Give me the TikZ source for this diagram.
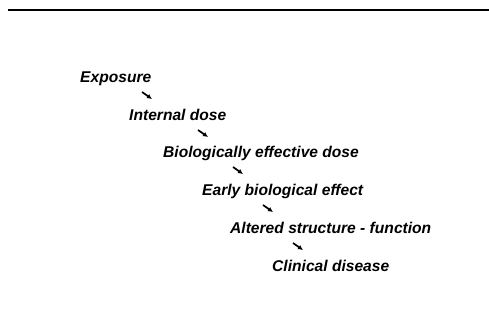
\documentclass[tikz,border=0pt]{standalone}
\usepackage{fontspec}
\setmainfont{Liberation Sans}
\usepackage{tikz}
\usetikzlibrary{arrows.meta}

\begin{document}
\begin{tikzpicture}[
  x=1pt, y=-1pt,
  stage/.style={anchor=base west, inner sep=0pt, font=\fontsize{15.6}{18}\selectfont\bfseries\itshape},
  rule/.style={line width=1.8pt, draw=black},
  stepline/.style={-{Latex[length=5pt,width=5pt]}, line width=1.7pt, draw=black}
]
\useasboundingbox (0,0) rectangle (489,324);

\coordinate (ruleL) at (8,10);
\coordinate (ruleR) at (489,10);
\draw[rule] (ruleL) -- (ruleR);

\node[stage] (expo) at (80,82) {Exposure};
\node[stage] (internal) at (129,120) {Internal dose};
\node[stage] (bio) at (163,157) {Biologically effective dose};
\node[stage] (early) at (202,195) {Early biological effect};
\node[stage] (altered) at (230,233) {Altered structure - function};
\node[stage] (clinical) at (272,271) {Clinical disease};

\foreach \a/\dx in {expo/62, internal/69, bio/70, early/61, altered/63}
  \draw[stepline] ([shift={(\dx,10)}]\a.base west) -- ++(10,7);

\end{tikzpicture}
\end{document}
